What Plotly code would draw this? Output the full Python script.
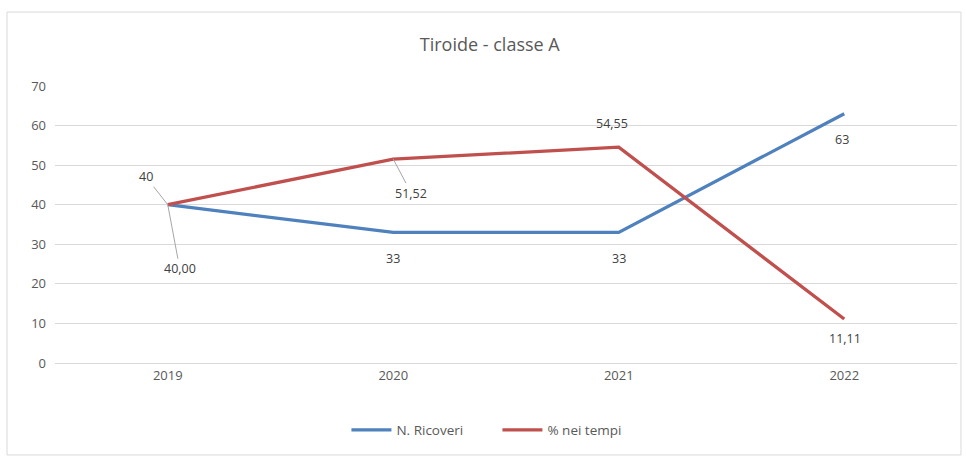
import plotly.graph_objects as go

years = ["2019", "2020", "2021", "2022"]
ricoveri = [40, 33, 33, 63]
perc_tempi = [40.00, 51.52, 54.55, 11.11]
ricoveri_labels = ["40", "33", "33", "63"]
perc_labels = ["40,00", "51,52", "54,55", "11,11"]

BLUE = "#4F81BD"
RED = "#C0504D"
TXT = "#595959"
FONT = "Open Sans"

fig = go.Figure()
fig.add_trace(go.Scatter(x=years, y=ricoveri, mode="lines", name="N. Ricoveri",
                         line=dict(color=BLUE, width=3.3)))
fig.add_trace(go.Scatter(x=years, y=perc_tempi, mode="lines", name="% nei tempi",
                         line=dict(color=RED, width=3.3)))

# label offsets (ax, ay in px; arrow = leader line)
blue_off = [(-22, -28, True), (0, 26, False), (0, 26, False), (-2, 26, False)]
red_off = [(12, 64, True), (18, 34, True), (-7, -24, False), (1, 19, False)]

for ys, labs, offs in [(ricoveri, ricoveri_labels, blue_off),
                       (perc_tempi, perc_labels, red_off)]:
    for i, (y, t, (ax, ay, arr)) in enumerate(zip(ys, labs, offs)):
        if arr:
            fig.add_annotation(x=i, y=y, xref="x", yref="y", text=t, showarrow=True,
                               ax=ax, ay=ay, arrowhead=0, arrowwidth=1,
                               arrowcolor="#A6A6A6", standoff=0,
                               font=dict(family=FONT, size=12.5, color="#404040"))
        else:
            fig.add_annotation(x=i, y=y, xref="x", yref="y", text=t, showarrow=False,
                               xshift=ax, yshift=-ay,
                               font=dict(family=FONT, size=12.5, color="#404040"))

fig.add_shape(type="rect", xref="paper", yref="paper", x0=-0.0532, x1=1.0044,
              y0=-0.332, y1=1.267, line=dict(color="#D9D9D9", width=1), layer="below")

fig.update_layout(
    width=966, height=458,
    margin=dict(l=55, r=9, t=86, b=95),
    paper_bgcolor="white", plot_bgcolor="white",
    title=dict(text="Tiroide - classe A", x=0.507, xref="container", y=0.902,
               yanchor="middle", xanchor="center",
               font=dict(family=FONT, size=18, color=TXT)),
    font=dict(family=FONT, size=13, color=TXT),
    xaxis=dict(type="category", showgrid=False, showline=True, linecolor="#D9D9D9",
               ticks="", tickfont=dict(size=13, color=TXT), range=[-0.5, 3.5]),
    yaxis=dict(range=[0, 70], dtick=10, showgrid=True, gridcolor="#D9D9D9",
               zeroline=False, showline=False, ticks="", ticklabelstandoff=8,
               tickfont=dict(size=13, color=TXT)),
    legend=dict(orientation="h", x=0.4905, xanchor="center", y=-0.242, yanchor="middle",
                font=dict(family=FONT, size=13.5, color=TXT), itemwidth=40,
                entrywidth=96, entrywidthmode="pixels"),
    showlegend=True,
)

fig.write_html("out.html", config={"displayModeBar": False},
               post_script="document.body.style.margin='0';")
